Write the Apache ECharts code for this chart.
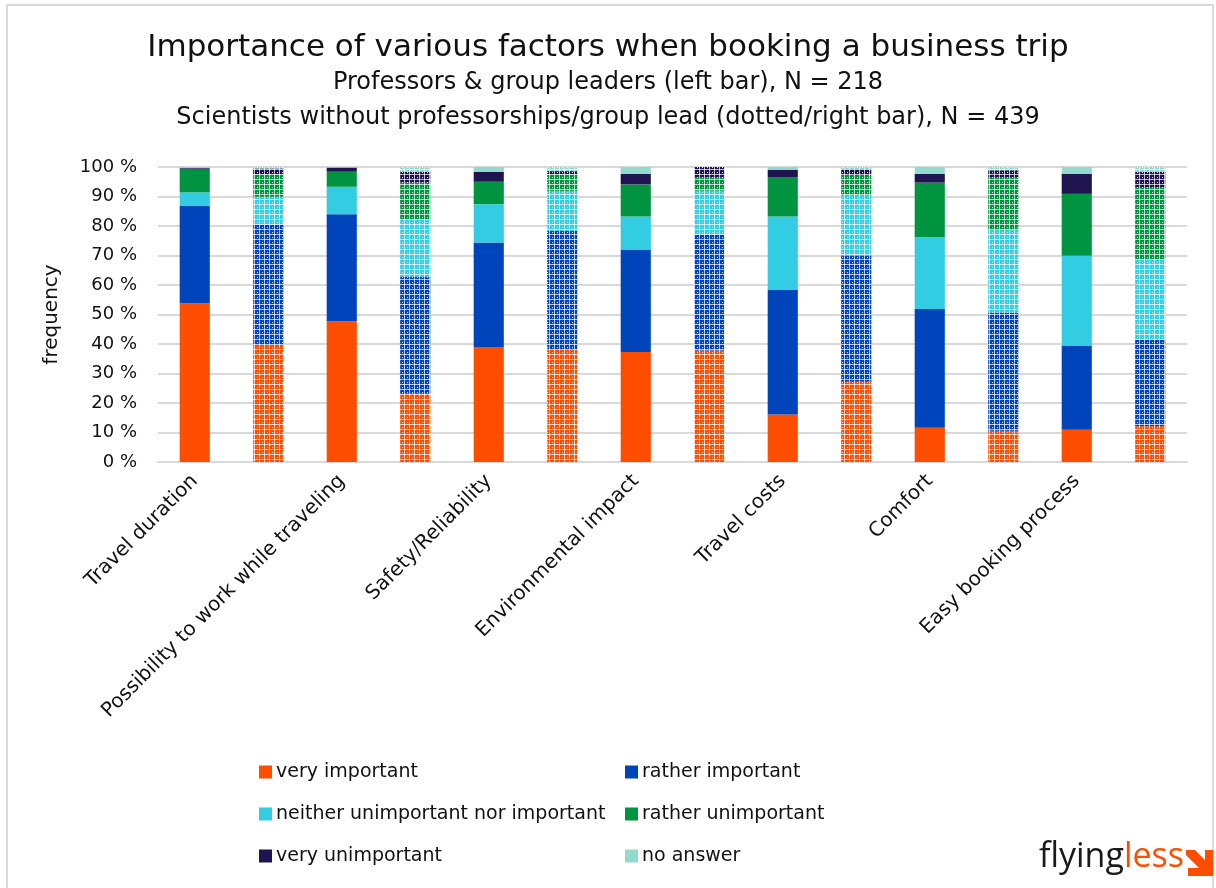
<!DOCTYPE html>
<html>
<head>
<meta charset="utf-8">
<script src="https://cdn.jsdelivr.net/npm/echarts@6/dist/echarts.min.js"></script>
<style>
  html, body { margin: 0; padding: 0; background: #fff; }
  #main { width: 1216px; height: 888px; }
</style>
</head>
<body>
<div id="main"></div>
<script>
// factors (each one has two bars: professors left, scientists right/dotted)
var factors = ['Travel duration', 'Possibility to work while traveling', 'Safety/Reliability',
  'Environmental impact', 'Travel costs', 'Comfort', 'Easy booking process'];
var answers = ['very important', 'rather important', 'neither unimportant nor important',
  'rather unimportant', 'very unimportant', 'no answer'];
var colors = ['#ff4d00', '#0044bb', '#33cde3', '#009440', '#201450', '#92dacc'];
var yTicks = [0, 10, 20, 30, 40, 50, 60, 70, 80, 90, 100];

// values in %, order: prof, sci, prof, sci ...
var veryImportant = [53.8, 39.7, 47.7, 23.1, 39.0, 38.0, 37.3, 37.8, 16.1, 27.2, 11.6, 10.6, 10.9, 12.1];
var ratherImportant = [33.0, 40.8, 36.3, 39.8, 35.4, 40.3, 34.7, 39.2, 42.2, 42.8, 40.3, 40.1, 28.6, 29.3];
var neither = [4.6, 9.4, 9.3, 19.4, 13.0, 13.6, 11.2, 15.0, 24.9, 20.5, 24.4, 27.9, 30.4, 27.3];
var ratherUnimportant = [7.7, 7.6, 5.1, 12.4, 7.6, 5.6, 10.9, 4.4, 13.4, 6.8, 18.4, 17.8, 21.0, 24.4];
var veryUnimportant = [0.5, 2.0, 1.4, 3.7, 3.4, 1.1, 3.6, 3.6, 2.5, 2.0, 3.0, 2.5, 6.8, 5.3];
var noAnswer = [0.4, 0.5, 0.2, 1.6, 1.6, 1.4, 2.3, 0, 0.9, 0.7, 2.3, 1.1, 2.3, 1.6];
var seriesValues = [veryImportant, ratherImportant, neither, ratherUnimportant, veryUnimportant, noAnswer];

var FONT = 'DejaVu Sans';

// x slots: label only under the left bar of each pair
var slots = [];
factors.forEach(function (f) { slots.push(f); slots.push(''); });

// dotted pattern for the right bar
function makePattern(color) {
  var c = document.createElement('canvas');
  c.width = 5; c.height = 5;
  var ctx = c.getContext('2d');
  ctx.fillStyle = color;
  ctx.fillRect(0, 0, 5, 5);
  ctx.fillStyle = 'rgba(255,255,255,0.7)';
  ctx.fillRect(0, 4, 5, 1);
  ctx.fillRect(4, 0, 1, 4);
  ctx.fillStyle = 'rgba(255,255,255,0.9)';
  ctx.fillRect(4, 4, 1, 1);
  ctx.fillRect(2, 2, 1, 1);
  return { image: c, repeat: 'repeat' };
}

var series = answers.map(function (name, i) {
  var pat = makePattern(colors[i]);
  return {
    name: name,
    type: 'bar',
    stack: 'all',
    barWidth: '41%',
    itemStyle: { color: colors[i] },
    data: seriesValues[i].map(function (v, j) {
      if (j % 2 == 1) {
        return { value: v, itemStyle: { color: pat } };
      }
      return v;
    })
  };
});

var myChart = echarts.init(document.getElementById('main'));
var option = {
  backgroundColor: '#fff',
  animation: false,
  textStyle: { fontFamily: FONT },
  title: [{
    text: 'Importance of various factors when booking a business trip',
    left: 'center', top: 27,
    textStyle: { fontFamily: FONT, fontSize: 31, fontWeight: 'normal', color: '#111' }
  }, {
    text: 'Professors & group leaders (left bar), N = 218',
    left: 'center', top: 66,
    textStyle: { fontFamily: FONT, fontSize: 24, fontWeight: 'normal', color: '#111' }
  }, {
    text: 'Scientists without professorships/group lead (dotted/right bar), N = 439',
    left: 'center', top: 101,
    textStyle: { fontFamily: FONT, fontSize: 24, fontWeight: 'normal', color: '#111' }
  }],
  grid: { left: 158, right: 29, top: 167, bottom: 426 },
  legend: [{
    orient: 'vertical',
    left: 254, top: 757,
    itemWidth: 13, itemHeight: 13, itemGap: 22,
    icon: 'rect',
    data: [answers[0], answers[2], answers[4]],
    textStyle: { fontFamily: FONT, fontSize: 19, color: '#111', lineHeight: 20, padding: [0, 0, 0, -1] }
  }, {
    orient: 'vertical',
    left: 620, top: 757,
    itemWidth: 13, itemHeight: 13, itemGap: 22,
    icon: 'rect',
    data: [answers[1], answers[3], answers[5]],
    textStyle: { fontFamily: FONT, fontSize: 19, color: '#111', lineHeight: 20, padding: [0, 0, 0, -1] }
  }],
  xAxis: {
    type: 'category',
    data: slots,
    axisTick: { show: false },
    axisLine: { lineStyle: { color: '#d9d9d9', width: 2 } },
    axisLabel: {
      interval: 0, rotate: 45, margin: 16,
      fontFamily: FONT, fontSize: 20, color: '#111'
    }
  },
  yAxis: {
    type: 'value',
    min: yTicks[0], max: yTicks[yTicks.length - 1], interval: 10,
    name: 'frequency',
    nameLocation: 'middle',
    nameGap: 96,
    nameTextStyle: { fontFamily: FONT, fontSize: 20, color: '#111' },
    axisLine: { show: false },
    axisTick: { show: false },
    splitLine: { lineStyle: { color: '#d9d9d9', width: 2 } },
    axisLabel: {
      margin: 21,
      fontFamily: FONT, fontSize: 18, color: '#111',
      formatter: '{value} %'
    }
  },
  graphic: [{
    type: 'rect',
    shape: { x: 7, y: 5, width: 1206, height: 900 },
    style: { fill: null, stroke: '#d9d9d9', lineWidth: 2 },
    silent: true
  }, {
    type: 'text',
    right: 32, top: 840,
    style: {
      text: '{a|flying}{b|less}',
      rich: {
        a: { fontFamily: 'Open Sans', fontSize: 34, fill: '#1a1a1a' },
        b: { fontFamily: 'Open Sans', fontSize: 34, fill: '#ff4d00' }
      }
    }
  }, {
    type: 'polygon',
    shape: { points: [[1186, 850], [1195, 850], [1205, 860], [1205, 850], [1213, 850], [1213, 876], [1188, 876], [1188, 868], [1199, 868], [1186, 855]] },
    style: { fill: '#ff4d00' },
    silent: true
  }],
  series: series
};
myChart.setOption(option);
</script>
</body>
</html>
